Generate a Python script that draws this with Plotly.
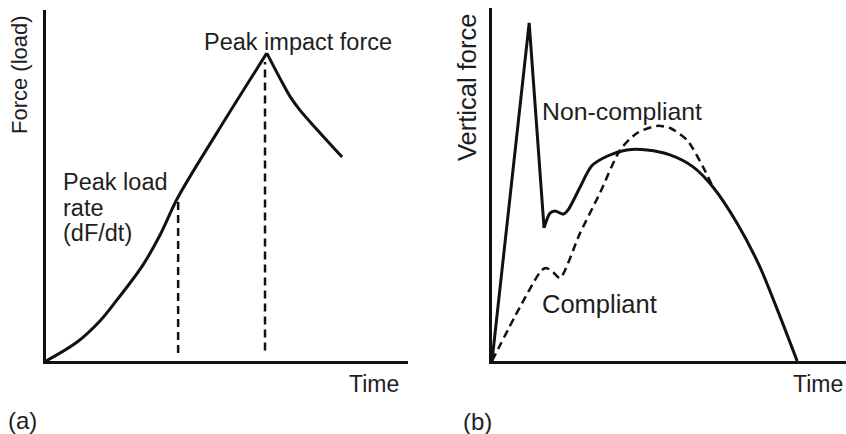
import plotly.graph_objects as go

W, H = 846, 434

# (a) loading curve: time vs force, arbitrary units
rise_time = [0, 8.6, 14.9, 19.6, 26.8, 31.5, 36.5, 47.2, 61.0]
rise_force = [0, 5.4, 11.4, 17.4, 27.4, 35.9, 46.7, 65.0, 87.7]
fall_time = [61.0, 64.6, 67.4, 70.2, 74.9, 81.8]
fall_force = [87.7, 80.6, 75.4, 71.4, 65.9, 58.1]
# markers dropped from the curve to the time axis
rate_time, rate_force = 36.5, 46.7
peak_time, peak_force = 60.5, 87.7

# (b) non-compliant: impact spike, then the active peak
spike_time = [0, 10.5, 14.7]
spike_force = [0, 95.8, 37.7]
nc_time = [14.7, 16.4, 17.8, 20.1, 21.5, 24.9, 28.2, 32.5, 38.1, 43.8, 50.3,
           56.8, 62.4, 69.2, 75.7, 81.4, 86.2]
nc_force = [37.7, 41.9, 42.5, 41.6, 42.8, 49.3, 55.3, 58.0, 59.8, 59.8, 58.4,
            55.0, 49.3, 39.1, 26.6, 12.5, 0]
# (b) compliant surface
c_time = [0, 7.9, 14.1, 15.5, 17.2, 19.2, 24.9, 30.5, 36.2, 41.0, 46.6, 50.3,
          55.1, 59.6, 62.4]
c_force = [0, 15.3, 25.8, 26.3, 25.2, 23.5, 36.3, 47.6, 59.8, 64.6, 66.6, 66.0,
           62.6, 55.0, 49.3]

INK = "#111111"
TXT = "#1e1e1e"
FONT = "Liberation Sans, Arial, sans-serif"

fig = go.Figure()

solid = dict(color=INK, width=3)
dashed = dict(color=INK, width=2.5, dash="8px,5px")

# rise and fall of (a) meet in a sharp corner at the peak
fig.add_trace(go.Scatter(x=rise_time, y=rise_force, mode="lines",
                         line=dict(shape="spline", smoothing=1.0, **solid),
                         xaxis="x", yaxis="y"))
fig.add_trace(go.Scatter(x=fall_time, y=fall_force, mode="lines",
                         line=dict(shape="spline", smoothing=1.0, **solid),
                         xaxis="x", yaxis="y"))
fig.add_trace(go.Scatter(x=[rate_time, rate_time], y=[2.3, rate_force], mode="lines",
                         line=dashed, xaxis="x", yaxis="y"))
fig.add_trace(go.Scatter(x=[peak_time, peak_time], y=[3.0, peak_force - 2.5], mode="lines",
                         line=dashed, xaxis="x", yaxis="y"))

fig.add_trace(go.Scatter(x=spike_time, y=spike_force, mode="lines",
                         line=solid, xaxis="x2", yaxis="y2"))
fig.add_trace(go.Scatter(x=nc_time, y=nc_force, mode="lines",
                         line=dict(shape="spline", smoothing=0.8, **solid),
                         xaxis="x2", yaxis="y2"))
fig.add_trace(go.Scatter(x=c_time, y=c_force, mode="lines",
                         line=dict(shape="spline", smoothing=0.7, color=INK, width=2.5,
                                   dash="8px,5px"),
                         xaxis="x2", yaxis="y2"))

axis_common = dict(showline=True, linecolor=INK, linewidth=3, showgrid=False,
                   zeroline=False, showticklabels=False, ticks="", range=[0, 100],
                   fixedrange=True)

fig.update_layout(
    width=W, height=H,
    margin=dict(l=0, r=0, t=0, b=0),
    paper_bgcolor="white", plot_bgcolor="white",
    showlegend=False,
    xaxis=dict(domain=[46 / W, 408 / W], anchor="y", **axis_common),
    yaxis=dict(domain=[1 - 361 / H, 1 - 10 / H], anchor="x", **axis_common),
    xaxis2=dict(domain=[492 / W, 1.0], anchor="y2", **axis_common),
    yaxis2=dict(domain=[1 - 361 / H, 1 - 8 / H], anchor="x2", **axis_common),
    font=dict(family=FONT, size=23, color=TXT),
)


def label(text, px, py, size, xanchor="left", angle=0):
    fig.add_annotation(text=text, x=px / W, y=1 - py / H, xref="paper", yref="paper",
                       xanchor=xanchor, yanchor="middle", showarrow=False,
                       textangle=angle, font=dict(family=FONT, size=size, color=TXT))


# panel (a)
label("Peak impact force", 202, 42, 23.5)
label("Peak load", 61, 182, 23.5)
label("rate", 61, 208, 23.5)
label("(dF/dt)", 61, 233, 23.5)
label("Time", 401, 384, 23, xanchor="right")
label("(a)", 6, 420, 24)
label("Force (load)", 20, 75, 22, xanchor="center", angle=-90)

# panel (b)
label("Non-compliant", 540, 111, 24.8)
label("Compliant", 540, 304, 25.5)
label("Time", 845, 384, 23, xanchor="right")
label("(b)", 461, 421, 24)
label("Vertical force", 467, 87, 25.5, xanchor="center", angle=-90)

fig.write_html("out.html")
